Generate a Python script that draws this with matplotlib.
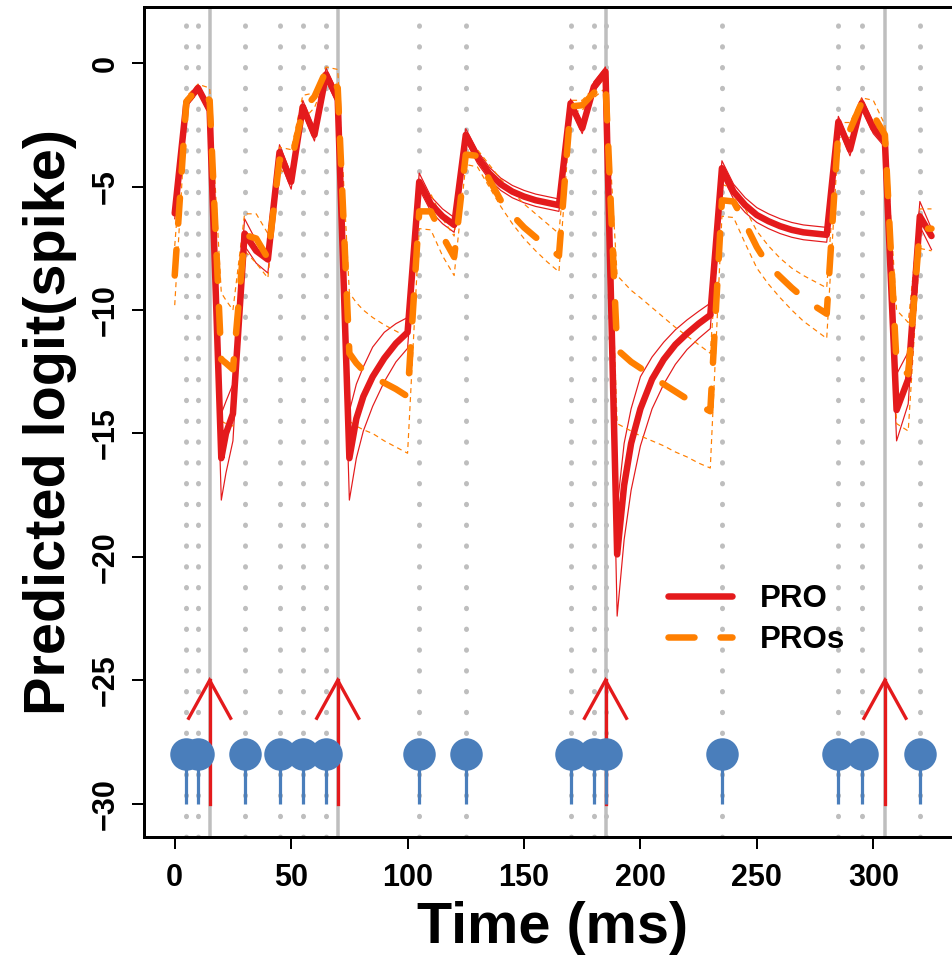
import matplotlib
matplotlib.use('Agg')
import matplotlib.pyplot as plt
from matplotlib.lines import Line2D

plt.rcParams['font.family'] = ['Liberation Sans', 'DejaVu Sans']
plt.rcParams['font.weight'] = 'bold'
plt.rcParams['lines.scale_dashes'] = False

# ---------------- data ----------------
time_ms = [0, 5, 10, 15, 20, 22, 25,
           30, 35, 40, 45, 50, 55, 60, 65, 70,
           75, 78, 81, 85, 90, 95, 100,
           105, 110, 115, 120,
           125, 130, 135, 140, 145, 150, 155, 160, 165,
           170, 175, 180, 185,
           190, 193, 196, 200, 205, 210, 215, 220, 225, 230,
           235, 240, 245, 250, 255, 260, 265, 270, 275, 280,
           285, 290, 295, 300, 305,
           310, 315, 320, 325]

pro_fit = [-6.08, -1.6, -1.0, -1.9, -16.0, -15.0, -14.2,
           -6.9, -7.6, -7.95, -3.6, -4.8, -1.76, -2.9, -0.45, -1.45,
           -16.0, -14.4, -13.5, -12.7, -11.95, -11.35, -10.9,
           -4.8, -5.7, -6.2, -6.55,
           -2.9, -3.8, -4.45, -4.9, -5.2, -5.4, -5.55, -5.65, -5.75,
           -1.62, -2.63, -0.95, -0.34,
           -19.9, -17.1, -15.4, -14.0, -12.8, -12.0, -11.4, -10.95, -10.55, -10.2,
           -4.25, -5.2, -5.75, -6.15, -6.4, -6.6, -6.75, -6.85, -6.9, -6.95,
           -2.37, -3.5, -1.62, -2.63, -3.18,
           -14.05, -12.8, -6.2, -7.0]

pro_lower = [-6.3, -1.75, -1.15, -2.1, -17.7, -16.6, -15.3,
             -7.4, -8.1, -8.5, -3.9, -5.1, -2.0, -3.15, -0.7, -1.7,
             -17.7, -16.0, -14.9, -13.9, -12.9, -12.1, -11.55,
             -5.1, -6.0, -6.5, -6.85,
             -3.15, -4.05, -4.7, -5.15, -5.45, -5.65, -5.8, -5.9, -6.0,
             -1.8, -2.85, -1.15, -0.55,
             -22.4, -19.3, -17.3, -15.5, -14.0, -13.0, -12.2, -11.6, -11.15, -10.75,
             -4.55, -5.5, -6.05, -6.45, -6.7, -6.9, -7.05, -7.15, -7.2, -7.25,
             -2.6, -3.75, -1.85, -2.85, -3.4,
             -15.3, -13.8, -6.6, -7.55]

pro_upper = [-5.9, -1.45, -0.85, -1.7, -14.2, -13.7, -13.0,
             -6.3, -7.2, -7.6, -3.3, -4.5, -1.5, -2.65, -0.2, -1.2,
             -14.1, -13.0, -12.3, -11.5, -10.9, -10.55, -10.3,
             -4.45, -5.4, -5.9, -6.25,
             -2.65, -3.55, -4.2, -4.65, -4.95, -5.15, -5.3, -5.4, -5.5,
             -1.45, -2.4, -0.75, -0.15,
             -18.0, -15.4, -14.0, -12.7, -11.9, -11.3, -10.8, -10.4, -10.05, -9.72,
             -3.95, -4.9, -5.45, -5.85, -6.1, -6.3, -6.45, -6.55, -6.6, -6.65,
             -2.15, -3.25, -1.4, -2.4, -2.95,
             -12.6, -11.7, -5.6, -6.7]

pros_fit = [-8.6, -1.55, -1.0, -1.5, -12.0, -12.15, -12.4,
            -6.95, -7.1, -7.9, -3.9, -4.0, -1.9, -1.35, -0.3, -1.0,
            -11.75, -12.15, -12.45, -12.7, -12.95, -13.2, -13.5,
            -6.0, -6.0, -7.0, -7.85,
            -3.7, -3.75, -4.7, -5.55, -6.15, -6.65, -7.05, -7.45, -7.8,
            -1.75, -1.7, -1.2, -0.8,
            -11.6, -11.85, -12.1, -12.35, -12.7, -13.0, -13.3, -13.6, -13.85, -14.1,
            -5.55, -5.6, -6.5, -7.45, -8.2, -8.65, -9.1, -9.5, -9.85, -10.15,
            -2.7, -2.7, -1.6, -2.1, -2.9,
            -12.2, -12.6, -6.7, -6.7]

pros_lower = [-9.8, -1.75, -1.2, -1.9, -14.5, -14.6, -14.7,
              -7.6, -8.1, -8.7, -4.3, -4.6, -2.3, -1.8, -0.6, -1.4,
              -14.5, -14.7, -14.85, -15.0, -15.3, -15.55, -15.8,
              -6.7, -6.75, -7.8, -8.6,
              -4.1, -4.2, -5.0, -5.8, -6.5, -7.1, -7.6, -8.05, -8.45,
              -2.0, -1.9, -1.4, -1.0,
              -14.6, -14.75, -14.9, -15.1, -15.3, -15.5, -15.75, -15.95, -16.2, -16.4,
              -6.2, -6.25, -7.3, -8.3, -8.95, -9.5, -10.0, -10.45, -10.8, -11.15,
              -3.0, -3.0, -2.0, -2.4, -3.3,
              -14.6, -14.9, -7.5, -7.6]

pros_upper = [-7.4, -1.35, -0.85, -1.0, -9.3, -9.6, -10.0,
              -6.1, -6.1, -6.9, -3.4, -3.5, -1.3, -1.2, -0.15, -0.25,
              -9.3, -9.7, -10.0, -10.3, -10.6, -10.85, -11.1,
              -5.3, -5.3, -6.3, -7.0,
              -3.3, -3.5, -4.1, -4.7, -5.2, -5.7, -6.1, -6.5, -6.9,
              -1.5, -1.5, -1.0, -0.6,
              -8.6, -8.9, -9.2, -9.5, -9.9, -10.3, -10.7, -11.05, -11.4, -11.75,
              -4.9, -5.1, -5.9, -6.8, -7.4, -7.9, -8.3, -8.6, -8.85, -9.1,
              -2.4, -2.4, -1.4, -1.5, -2.5,
              -10.0, -10.5, -5.9, -5.9]

input_spikes = [5, 10, 30, 45, 55, 65, 105, 125, 170, 180, 185, 235, 285, 295, 320]
output_spikes = [15, 70, 185, 305]
input_marker_y = -28
spike_base_y = -30
arrow_tip_y = -25

x_ticks = [0, 50, 100, 150, 200, 250, 300]
y_ticks = [0, -5, -10, -15, -20, -25, -30]
legend_labels = ['PRO', 'PROs']

# ---------------- style ----------------
DPI = 100
PX = 72.0 / DPI            # points per pixel
RED = '#E41A1C'
ORANGE = '#FF7F00'
GRAY = '#BEBEBE'
BLUE = '#4A7EBB'

fig = plt.figure(figsize=(9.53, 9.61), dpi=DPI)
ax = fig.add_axes([0.1506, 0.1293, 0.8586, 0.8634])
XLIM = (-13.4, 338.0)
YLIM = (-31.34, 2.28)
ax.set_xlim(*XLIM)
ax.set_ylim(*YLIM)

# pixels per data unit (for arrow heads)
ax_w_px = 0.8586 * 953
ax_h_px = 0.8634 * 961
px_per_ms = ax_w_px / (XLIM[1] - XLIM[0])
px_per_unit = ax_h_px / (YLIM[1] - YLIM[0])

# vertical reference lines
for t in input_spikes:
    ax.axvline(t, color=GRAY, lw=5 * PX, dashes=(0.4 * PX, 20.4 * PX),
               dash_capstyle='round', zorder=1)
for t in output_spikes:
    ax.axvline(t, color=GRAY, lw=3.5 * PX, zorder=1.5)

# confidence lines
ax.plot(time_ms, pro_lower, color=RED, lw=1.2 * PX, zorder=2)
ax.plot(time_ms, pro_upper, color=RED, lw=1.2 * PX, zorder=2)
ax.plot(time_ms, pros_lower, color=ORANGE, lw=1.2 * PX, dashes=(5 * PX, 4 * PX), zorder=2)
ax.plot(time_ms, pros_upper, color=ORANGE, lw=1.2 * PX, dashes=(5 * PX, 4 * PX), zorder=2)

# fitted lines
ax.plot(time_ms, pro_fit, color=RED, lw=6.5 * PX, solid_capstyle='round',
        solid_joinstyle='round', zorder=3)
ax.plot(time_ms, pros_fit, color=ORANGE, lw=6.5 * PX, dashes=(26 * PX, 26 * PX),
        dash_capstyle='round', dash_joinstyle='round', zorder=3.5)

# output spike arrows
head_dx = 21.0 / px_per_ms
head_dy = 38.0 / px_per_unit
for t in output_spikes:
    ax.plot([t, t], [spike_base_y, arrow_tip_y], color=RED, lw=3.3 * PX, zorder=4)
    ax.plot([t - head_dx, t, t + head_dx],
            [arrow_tip_y - head_dy, arrow_tip_y, arrow_tip_y - head_dy],
            color=RED, lw=3.3 * PX, solid_joinstyle='miter', zorder=4)

# input spikes
ax.vlines(input_spikes, spike_base_y, input_marker_y, color=BLUE, lw=3.2 * PX, zorder=5)
ax.plot(input_spikes, [input_marker_y] * len(input_spikes), 'o', ms=32.5 * PX,
        color=BLUE, mec='none', zorder=6)

# axes
for s in ax.spines.values():
    s.set_linewidth(3 * PX)
ax.set_xticks(x_ticks)
ax.set_yticks(y_ticks)
ax.set_xticklabels([str(v) for v in x_ticks])
ax.set_yticklabels([str(v).replace('-', '\u2212') for v in y_ticks])
ax.tick_params(axis='both', direction='out', length=12 * PX, width=2 * PX,
               labelsize=22)
ax.tick_params(axis='x', pad=10)
ax.tick_params(axis='y', pad=8)
for lab in ax.get_yticklabels():
    lab.set_rotation(90)
    lab.set_va('center')
    lab.set_fontweight('bold')
for lab in ax.get_xticklabels():
    lab.set_fontweight('bold')

ax.set_xlabel('Time (ms)', fontsize=41.5, fontweight='bold', labelpad=6)
ax.set_ylabel('Predicted logit(spike)', fontsize=41.5, fontweight='bold', labelpad=10)

handles = [Line2D([], [], color=RED, lw=6.5 * PX, solid_capstyle='round'),
           Line2D([], [], color=ORANGE, lw=6.5 * PX, dashes=(26 * PX, 26 * PX),
                  dash_capstyle='round')]
ax.legend(handles, legend_labels, loc='upper left',
          bbox_to_anchor=(668 / 953, 1 - 584 / 961), bbox_transform=fig.transFigure,
          frameon=False, fontsize=22.5, handlelength=2.05, handletextpad=0.9,
          labelspacing=0.36, borderpad=0, borderaxespad=0)

fig.savefig('out.png', dpi=DPI)
